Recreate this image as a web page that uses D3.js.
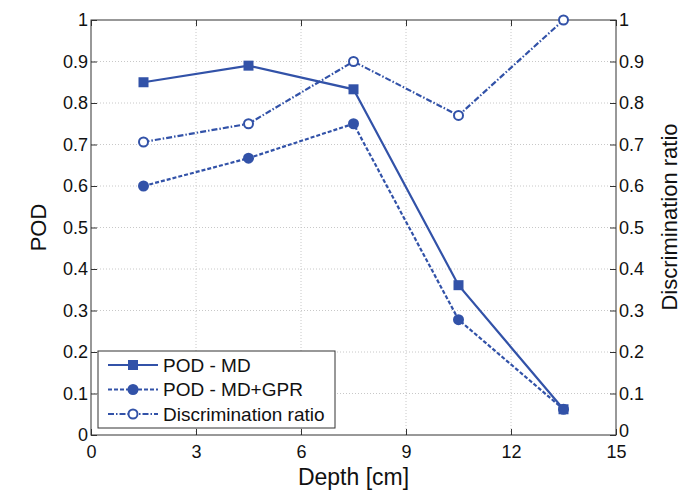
<!DOCTYPE html>
<html>
<head>
<meta charset="utf-8">
<script src="https://cdn.jsdelivr.net/npm/d3@7"></script>
<style>
  body { margin: 0; background: #fff; }
  svg text { font-family: "Liberation Sans", Arial, sans-serif; fill: #111; }
</style>
</head>
<body>
<div id="main"></div>
<script>
// data
var depths = [1.5, 4.5, 7.5, 10.5, 13.5];
var podMD = [0.85, 0.89, 0.833, 0.361, 0.062];
var podMDGPR = [0.6, 0.667, 0.75, 0.278, 0.062];
var discRatio = [0.706, 0.75, 0.9, 0.77, 1.0];
var xTicks = [0, 3, 6, 9, 12, 15];
var yTicks = [0, 0.1, 0.2, 0.3, 0.4, 0.5, 0.6, 0.7, 0.8, 0.9, 1];
var seriesNames = ["POD - MD", "POD - MD+GPR", "Discrimination ratio"];

var W = 683, H = 492;
var margin = { top: 20, left: 91, right: 67, bottom: 57 };
var w = W - margin.left - margin.right,
	h = H - margin.top - margin.bottom;
var blue = "#3252a8";

var svg = d3.select("#main").append("svg")
	.attr("width", W)
	.attr("height", H);

var g = svg.append("g")
	.attr("transform", "translate(" + margin.left + "," + margin.top + ")");

var x = d3.scaleLinear().domain([0, 15]).range([0, w]);
var y = d3.scaleLinear().domain([0, 1]).range([h, 0]);
var y2 = d3.scaleLinear().domain([0, 1]).range([h, 0]);

// grid
g.append("g").selectAll("line").data(xTicks.slice(1, -1)).enter().append("line")
	.attr("x1", d => x(d)).attr("x2", d => x(d))
	.attr("y1", 0).attr("y2", h)
	.attr("stroke", "#c8c8c8").attr("stroke-dasharray", "1,2");
g.append("g").selectAll("line").data(yTicks.slice(1, -1)).enter().append("line")
	.attr("x1", 0).attr("x2", w)
	.attr("y1", d => y(d)).attr("y2", d => y(d))
	.attr("stroke", "#c8c8c8").attr("stroke-dasharray", "1,2");

// axes
function styleAxis(sel) {
	sel.selectAll("path, line").attr("stroke", "#333");
	sel.selectAll("text").style("font-size", "18px").attr("fill", "#111");
	sel.select(".domain").remove();
}
var fmt = d3.format("~g");
g.append("g").attr("transform", "translate(0," + h + ")")
	.call(d3.axisBottom(x).tickValues(xTicks).tickSize(-6).tickPadding(10).tickFormat(fmt))
	.call(styleAxis);
g.append("g")
	.call(d3.axisTop(x).tickValues(xTicks).tickSize(-6).tickFormat(""))
	.call(styleAxis);
g.append("g")
	.call(d3.axisLeft(y).tickValues(yTicks).tickSize(-6).tickPadding(3).tickFormat(fmt))
	.call(styleAxis);
g.append("g").attr("transform", "translate(" + w + ",0)")
	.call(d3.axisRight(y2).tickValues(yTicks).tickSize(-6).tickPadding(3).tickFormat(fmt))
	.call(styleAxis);
// right "0" sits a bit high so it clears the "15" below it
g.selectAll("g.tick text").filter(function(d) { return d === 0 && this.getAttribute("x") > 0 && this.getAttribute("dy") === "0.32em"; })
	.attr("dy", "0.1em");

g.append("rect").attr("width", w).attr("height", h)
	.attr("fill", "none").attr("stroke", "#333").attr("stroke-width", 1);

// titles
svg.append("text").attr("x", margin.left + w / 2).attr("y", 485)
	.attr("text-anchor", "middle").style("font-size", "23px").text("Depth [cm]");
svg.append("text").attr("transform", "translate(46," + (margin.top + h / 2) + ") rotate(-90)")
	.attr("text-anchor", "middle").style("font-size", "22px").text("POD");
svg.append("text").attr("transform", "translate(677,217) rotate(-90)")
	.attr("text-anchor", "middle").style("font-size", "22px").text("Discrimination ratio");

// series
var series = [
	{ vals: podMD, sc: y, dash: null, marker: "square" },
	{ vals: podMDGPR, sc: y, dash: "4,2", marker: "dot" },
	{ vals: discRatio, sc: y2, dash: "6,2,1.5,2", marker: "circle" }
];

function drawMarker(sel, m) {
	if (m == "square") {
		sel.append("rect").attr("x", -5).attr("y", -5).attr("width", 10).attr("height", 10)
			.attr("fill", blue);
	} else if (m == "dot") {
		sel.append("circle").attr("r", 5.5).attr("fill", blue);
	} else {
		sel.append("circle").attr("r", 4.5).attr("fill", "#fff")
			.attr("stroke", blue).attr("stroke-width", 2);
	}
}

series.forEach(function(s) {
	var line = d3.line().x((d, i) => x(depths[i])).y(d => s.sc(d));
	g.append("path").datum(s.vals)
		.attr("d", line)
		.attr("fill", "none").attr("stroke", blue).attr("stroke-width", 2.2)
		.attr("stroke-dasharray", s.dash);
	g.selectAll(".m-" + s.marker).data(s.vals).enter().append("g")
		.attr("class", "m-" + s.marker)
		.attr("transform", (d, i) => "translate(" + x(depths[i]) + "," + s.sc(d) + ")")
		.each(function() { drawMarker(d3.select(this), s.marker); });
});

// legend
var leg = svg.append("g").attr("transform", "translate(98,351)");
leg.append("rect").attr("width", 237).attr("height", 77)
	.attr("fill", "#fff").attr("stroke", "#333");
series.forEach(function(s, i) {
	var ly = 14 + i * 24.5;
	leg.append("line").attr("x1", 10).attr("x2", 60).attr("y1", ly).attr("y2", ly)
		.attr("stroke", blue).attr("stroke-width", 2.2).attr("stroke-dasharray", s.dash);
	drawMarker(leg.append("g").attr("transform", "translate(35," + ly + ")"), s.marker);
	leg.append("text").attr("x", 65).attr("y", ly + 6.5).style("font-size", "19px")
		.text(seriesNames[i]);
});
</script>
</body>
</html>
